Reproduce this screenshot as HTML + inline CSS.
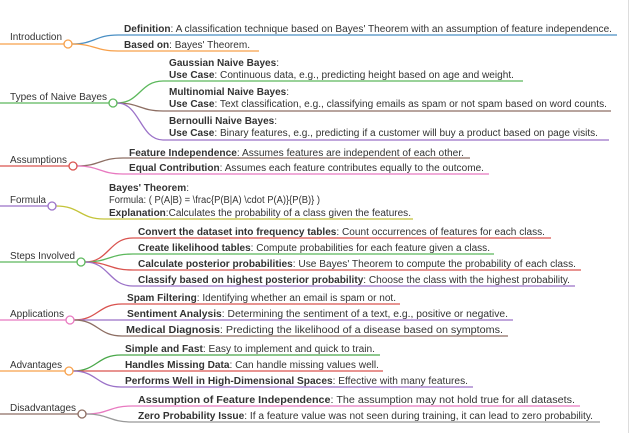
<!DOCTYPE html>
<html><head><meta charset="utf-8"><style>
html,body{margin:0;padding:0;background:#fff;}
svg{display:block;font-family:"Liberation Sans",Arial,sans-serif;font-size:10px;}
text{fill:#333;}
.b{font-weight:bold;}
</style></head><body>
<svg width="633" height="433" viewBox="0 0 633 433" xmlns="http://www.w3.org/2000/svg">
<line x1="628.5" y1="0" x2="628.5" y2="433" stroke="#ddd"/>
<g fill="none" stroke-width="1.3">
<path d="M0 44H64" stroke="#f7a04a"/>
<path d="M72 44C95 44 95 35 118 35H617" stroke="#4a8fc4"/>
<path d="M72 44C95 44 95 51 118 51H259" stroke="#f7a04a"/>
<circle cx="68" cy="44" r="4" stroke="#f7a04a" fill="#fff"/>
<path d="M0 103H109" stroke="#5cb85c"/>
<path d="M117 103C140 103 140 81 163 81H523" stroke="#5cb85c"/>
<path d="M117 103C140 103 140 111 163 111H611" stroke="#8d6e63"/>
<path d="M117 103C140 103 140 140 163 140H609" stroke="#9b72c8"/>
<circle cx="113" cy="103" r="4" stroke="#5cb85c" fill="#fff"/>
<path d="M0 166H69" stroke="#d9534f"/>
<path d="M77 166C100 166 100 158 123 158H470" stroke="#8d6e63"/>
<path d="M77 166C100 166 100 174 123 174H489" stroke="#e879c0"/>
<circle cx="73" cy="166" r="4" stroke="#d9534f" fill="#fff"/>
<path d="M0 206H48" stroke="#9b72c8"/>
<path d="M56 206C80 206 80 219 104 219H413" stroke="#c4c43a"/>
<circle cx="52" cy="206" r="4" stroke="#9b72c8" fill="#fff"/>
<path d="M0 262H77" stroke="#5cb85c"/>
<path d="M85 262C109 262 109 238 133 238H551" stroke="#d9534f"/>
<path d="M85 262C109 262 109 254 133 254H494" stroke="#5cb85c"/>
<path d="M85 262C109 262 109 270 133 270H581" stroke="#d9534f"/>
<path d="M85 262C109 262 109 286 133 286H575" stroke="#9b72c8"/>
<circle cx="81" cy="262" r="4" stroke="#5cb85c" fill="#fff"/>
<path d="M0 320H66" stroke="#e879c0"/>
<path d="M74 320C98 320 98 304 122 304H400" stroke="#d9534f"/>
<path d="M74 320C98 320 98 320 122 320H513" stroke="#9b72c8"/>
<path d="M74 320C98 320 98 336 122 336H508" stroke="#8d6e63"/>
<circle cx="70" cy="320" r="4" stroke="#e879c0" fill="#fff"/>
<path d="M0 371H65" stroke="#f7a04a"/>
<path d="M73 371C97 371 97 355 121 355H380" stroke="#4aa84a"/>
<path d="M73 371C97 371 97 371 121 371H383" stroke="#d9534f"/>
<path d="M73 371C97 371 97 387 121 387H473" stroke="#9b72c8"/>
<circle cx="69" cy="371" r="4" stroke="#f7a04a" fill="#fff"/>
<path d="M0 414H78" stroke="#8d6e63"/>
<path d="M86 414C109 414 109 406 132 406H580" stroke="#e879c0"/>
<path d="M86 414C109 414 109 422 132 422H600" stroke="#999"/>
<circle cx="82" cy="414" r="4" stroke="#8d6e63" fill="#fff"/>
</g>

<text x="10" y="40" textLength="52" lengthAdjust="spacingAndGlyphs">Introduction</text>
<text x="10" y="100" textLength="97" lengthAdjust="spacingAndGlyphs">Types of Naive Bayes</text>
<text x="10" y="163" textLength="57" lengthAdjust="spacingAndGlyphs">Assumptions</text>
<text x="10" y="203" textLength="36" lengthAdjust="spacingAndGlyphs">Formula</text>
<text x="10" y="259" textLength="65" lengthAdjust="spacingAndGlyphs">Steps Involved</text>
<text x="10" y="317" textLength="54" lengthAdjust="spacingAndGlyphs">Applications</text>
<text x="10" y="368" textLength="52" lengthAdjust="spacingAndGlyphs">Advantages</text>
<text x="10" y="411" textLength="66" lengthAdjust="spacingAndGlyphs">Disadvantages</text>

<text x="124" y="32" textLength="488" lengthAdjust="spacingAndGlyphs"><tspan class="b">Definition</tspan>: A classification technique based on Bayes' Theorem with an assumption of feature independence.</text>
<text x="124" y="48" textLength="126" lengthAdjust="spacingAndGlyphs"><tspan class="b">Based on</tspan>: Bayes' Theorem.</text>

<text x="169" y="66" textLength="110" lengthAdjust="spacingAndGlyphs"><tspan class="b">Gaussian Naive Bayes</tspan>:</text>
<text x="169" y="78" textLength="345" lengthAdjust="spacingAndGlyphs"><tspan class="b">Use Case</tspan>: Continuous data, e.g., predicting height based on age and weight.</text>
<text x="169" y="95" textLength="120" lengthAdjust="spacingAndGlyphs"><tspan class="b">Multinomial Naive Bayes</tspan>:</text>
<text x="169" y="107" textLength="438" lengthAdjust="spacingAndGlyphs"><tspan class="b">Use Case</tspan>: Text classification, e.g., classifying emails as spam or not spam based on word counts.</text>
<text x="169" y="124" textLength="108" lengthAdjust="spacingAndGlyphs"><tspan class="b">Bernoulli Naive Bayes</tspan>:</text>
<text x="169" y="136" textLength="429" lengthAdjust="spacingAndGlyphs"><tspan class="b">Use Case</tspan>: Binary features, e.g., predicting if a customer will buy a product based on page visits.</text>

<text x="129" y="156" textLength="335" lengthAdjust="spacingAndGlyphs"><tspan class="b">Feature Independence</tspan>: Assumes features are independent of each other.</text>
<text x="129" y="171" textLength="355" lengthAdjust="spacingAndGlyphs"><tspan class="b">Equal Contribution</tspan>: Assumes each feature contributes equally to the outcome.</text>

<text x="109" y="191" textLength="80" lengthAdjust="spacingAndGlyphs"><tspan class="b">Bayes' Theorem</tspan>:</text>
<text x="109" y="203" textLength="211" lengthAdjust="spacingAndGlyphs">Formula: ( P(A|B) = \frac{P(B|A) \cdot P(A)}{P(B)} )</text>
<text x="109" y="216" textLength="302" lengthAdjust="spacingAndGlyphs"><tspan class="b">Explanation</tspan>:Calculates the probability of a class given the features.</text>

<text x="138" y="235" textLength="407" lengthAdjust="spacingAndGlyphs"><tspan class="b">Convert the dataset into frequency tables</tspan>: Count occurrences of features for each class.</text>
<text x="138" y="251" textLength="352" lengthAdjust="spacingAndGlyphs"><tspan class="b">Create likelihood tables</tspan>: Compute probabilities for each feature given a class.</text>
<text x="138" y="267" textLength="438" lengthAdjust="spacingAndGlyphs"><tspan class="b">Calculate posterior probabilities</tspan>: Use Bayes' Theorem to compute the probability of each class.</text>
<text x="138" y="283" textLength="432" lengthAdjust="spacingAndGlyphs"><tspan class="b">Classify based on highest posterior probability</tspan>: Choose the class with the highest probability.</text>

<text x="127" y="301" textLength="269" lengthAdjust="spacingAndGlyphs"><tspan class="b">Spam Filtering</tspan>: Identifying whether an email is spam or not.</text>
<text x="127" y="317" textLength="381" lengthAdjust="spacingAndGlyphs"><tspan class="b">Sentiment Analysis</tspan>: Determining the sentiment of a text, e.g., positive or negative.</text>
<text x="126" y="333" textLength="377" lengthAdjust="spacingAndGlyphs"><tspan class="b">Medical Diagnosis</tspan>: Predicting the likelihood of a disease based on symptoms.</text>

<text x="125" y="352" textLength="250" lengthAdjust="spacingAndGlyphs"><tspan class="b">Simple and Fast</tspan>: Easy to implement and quick to train.</text>
<text x="125" y="368" textLength="254" lengthAdjust="spacingAndGlyphs"><tspan class="b">Handles Missing Data</tspan>: Can handle missing values well.</text>
<text x="125" y="384" textLength="343" lengthAdjust="spacingAndGlyphs"><tspan class="b">Performs Well in High-Dimensional Spaces</tspan>: Effective with many features.</text>

<text x="138" y="403" textLength="437" lengthAdjust="spacingAndGlyphs"><tspan class="b">Assumption of Feature Independence</tspan>: The assumption may not hold true for all datasets.</text>
<text x="138" y="419" textLength="455" lengthAdjust="spacingAndGlyphs"><tspan class="b">Zero Probability Issue</tspan>: If a feature value was not seen during training, it can lead to zero probability.</text>
</svg>
</body></html>
